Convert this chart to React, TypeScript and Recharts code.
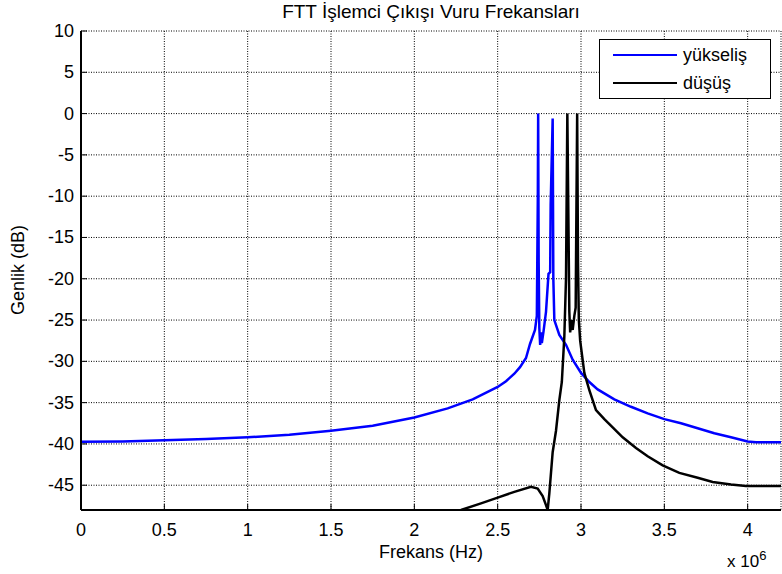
import React from 'react';
import { LineChart, Line, XAxis, YAxis, CartesianGrid, Legend } from 'recharts';

const FONT = '"Liberation Sans", Arial, Helvetica, sans-serif';

// frequency axis is in units of 1e6 Hz (shown as "x 10^6")
const xTicks = [0, 0.5, 1, 1.5, 2, 2.5, 3, 3.5, 4];
const yTicks = [10, 5, 0, -5, -10, -15, -20, -25, -30, -35, -40, -45];

const seriesNames = ['yükseliş', 'düşüş'];
const seriesColors = ['#0000ff', '#000000'];

// yükseliş (rising sweep)
const riseFreq = [
  0, 0.25, 0.5, 0.75, 1.0, 1.25, 1.5, 1.75, 2.0, 2.2, 2.35, 2.5, 2.55, 2.6, 2.634, 2.67, 2.694, 2.724,
  2.735, 2.741, 2.743, 2.746, 2.75, 2.755, 2.76, 2.765, 2.775, 2.79, 2.805, 2.815, 2.818, 2.83,
  2.834, 2.84, 2.87, 2.91, 2.95, 3.0, 3.05, 3.1, 3.2, 3.3, 3.4, 3.5, 3.6, 3.7, 3.8, 3.9, 4.0, 4.05, 4.2,
];
const riseGain = [
  -39.75, -39.7, -39.55, -39.4, -39.2, -38.9, -38.4, -37.8, -36.8, -35.7, -34.6, -33.1, -32.4, -31.5, -30.7, -29.6, -27.9, -26.2,
  -24.5, -10, 0, -18, -26, -28, -26.5, -27.8, -26.4, -24, -19.4, -19.2, -11, -0.6,
  -20, -25, -26.8, -28, -29.8, -31.4, -32.5, -33.4, -34.6, -35.5, -36.3, -37.0, -37.5, -38.1, -38.7, -39.2, -39.7, -39.8, -39.8,
];

// düşüş (falling sweep)
const fallFreq = [
  2.28, 2.4, 2.5, 2.6, 2.7, 2.74, 2.77, 2.79, 2.8, 2.81, 2.83, 2.85, 2.87, 2.885, 2.9, 2.91,
  2.918, 2.924, 2.93, 2.935, 2.942, 2.95, 2.96, 2.968, 2.977, 2.982, 2.987, 2.995, 3.02, 3.05,
  3.09, 3.14, 3.19, 3.25, 3.33, 3.4, 3.49, 3.59, 3.7, 3.79, 3.9, 3.99, 4.2,
];
const fallGain = [
  -48, -47.2, -46.5, -45.8, -45.2, -45.4, -46.3, -47.4, -48, -46, -41, -38.4, -34.7, -32.5, -27, -20,
  0, -12, -24, -26.5, -25, -26.2, -24.5, -23.5, 0, -18, -25, -27.5, -31.4, -33.5,
  -35.9, -37.0, -38.0, -39.2, -40.5, -41.5, -42.6, -43.5, -44.1, -44.6, -44.9, -45.1, -45.1,
];

const riseData = riseFreq.map((x, i) => ({ x, y: riseGain[i] }));
const fallData = fallFreq.map((x, i) => ({ x, y: fallGain[i] }));

const TICK_LEN = 6;

const BottomTick = ({ x, y, payload }: any) => (
  <g>
    <line x1={x} y1={y} x2={x} y2={y - TICK_LEN} stroke="#000" strokeWidth={1} />
    <text x={x} y={y + 26} textAnchor="middle" fontSize={18} fontFamily={FONT} fill="#000">
      {payload.value}
    </text>
  </g>
);

const LeftTick = ({ x, y, payload }: any) => (
  <g>
    <line x1={x} y1={y} x2={x + TICK_LEN} y2={y} stroke="#000" strokeWidth={1} />
    <text x={x - 7} y={y + 6} textAnchor="end" fontSize={18} fontFamily={FONT} fill="#000">
      {payload.value}
    </text>
  </g>
);

const TopTick = ({ x, y }: any) => (
  <line x1={x} y1={y} x2={x} y2={y + TICK_LEN} stroke="#000" strokeWidth={1} />
);

const RightTick = ({ x, y }: any) => (
  <line x1={x} y1={y} x2={x - TICK_LEN} y2={y} stroke="#000" strokeWidth={1} />
);

const LegendBox = () => (
  <div
    style={{
      width: 172,
      height: 60,
      border: '1px solid #000',
      background: '#fff',
      boxSizing: 'border-box',
      position: 'relative',
      fontFamily: FONT,
      fontSize: 18,
      color: '#000',
    }}
  >
    {seriesNames.map((name, i) => (
      <div
        key={name}
        style={{ position: 'absolute', left: 13, top: 3 + i * 28, height: 24, display: 'flex', alignItems: 'center' }}
      >
        <div style={{ width: 64, height: 0, borderTop: `2.5px solid ${seriesColors[i]}` }} />
        <span style={{ marginLeft: 6 }}>{name}</span>
      </div>
    ))}
  </div>
);

export default function App() {
  return (
    <div style={{ position: 'absolute', left: 0, top: 0, width: 782, height: 574, background: '#fff', fontFamily: FONT }}>
      <LineChart width={782} height={574} margin={{ top: 31, right: 1, bottom: 0, left: 0 }}>
        <CartesianGrid stroke="#000" strokeDasharray="1 1.5" strokeWidth={1} />
        <XAxis
          dataKey="x"
          type="number"
          domain={[0, 4.2]}
          ticks={xTicks}
          allowDataOverflow
          height={64}
          tickSize={0}
          tickMargin={0}
          tickLine={false}
          tick={<BottomTick />}
          axisLine={{ stroke: '#000', strokeWidth: 2 }}
          interval={0}
        />
        <XAxis
          xAxisId="top"
          orientation="top"
          dataKey="x"
          type="number"
          domain={[0, 4.2]}
          ticks={xTicks}
          allowDataOverflow
          height={0}
          tickSize={0}
          tickMargin={0}
          tickLine={false}
          tick={<TopTick />}
          axisLine={{ stroke: '#000', strokeWidth: 1 }}
          interval={0}
        />
        <YAxis
          type="number"
          domain={[-48, 10]}
          ticks={yTicks}
          allowDataOverflow
          width={81}
          tickSize={0}
          tickMargin={0}
          tickLine={false}
          tick={<LeftTick />}
          axisLine={{ stroke: '#000', strokeWidth: 2 }}
          interval={0}
        />
        <YAxis
          yAxisId="right"
          orientation="right"
          type="number"
          domain={[-48, 10]}
          ticks={yTicks}
          allowDataOverflow
          width={0}
          tickSize={0}
          tickMargin={0}
          tickLine={false}
          tick={<RightTick />}
          axisLine={{ stroke: '#000', strokeWidth: 1.5 }}
          interval={0}
        />
        <Legend
          layout="vertical"
          align="center"
          verticalAlign="middle"
          content={<LegendBox />}
          wrapperStyle={{ top: 39, left: 599, width: 172, height: 60 }}
        />
        <Line
          name={seriesNames[0]}
          data={riseData}
          dataKey="y"
          type="linear"
          stroke={seriesColors[0]}
          strokeWidth={2.5}
          dot={false}
          activeDot={false}
          isAnimationActive={false}
        />
        <Line
          name={seriesNames[1]}
          data={fallData}
          dataKey="y"
          type="linear"
          stroke={seriesColors[1]}
          strokeWidth={2.5}
          dot={false}
          activeDot={false}
          isAnimationActive={false}
        />
      </LineChart>
      <div style={{ position: 'absolute', left: 81, width: 700, top: 0, lineHeight: '24px', textAlign: 'center', fontSize: 19, color: '#000' }}>
        FTT İşlemci Çıkışı Vuru Frekansları
      </div>
      <div style={{ position: 'absolute', left: 81, width: 700, top: 541, lineHeight: '22px', textAlign: 'center', fontSize: 18, color: '#000' }}>
        Frekans (Hz)
      </div>
      <div
        style={{
          position: 'absolute',
          left: 18,
          top: 270,
          transform: 'translate(-50%, -50%) rotate(-90deg)',
          whiteSpace: 'nowrap',
          fontSize: 18,
          color: '#000',
        }}
      >
        Genlik (dB)
      </div>
      <div style={{ position: 'absolute', left: 727, top: 552, fontSize: 17, color: '#000', whiteSpace: 'nowrap' }}>
        x 10<sup style={{ fontSize: 13, verticalAlign: 'top', position: 'relative', top: -4 }}>6</sup>
      </div>
    </div>
  );
}
